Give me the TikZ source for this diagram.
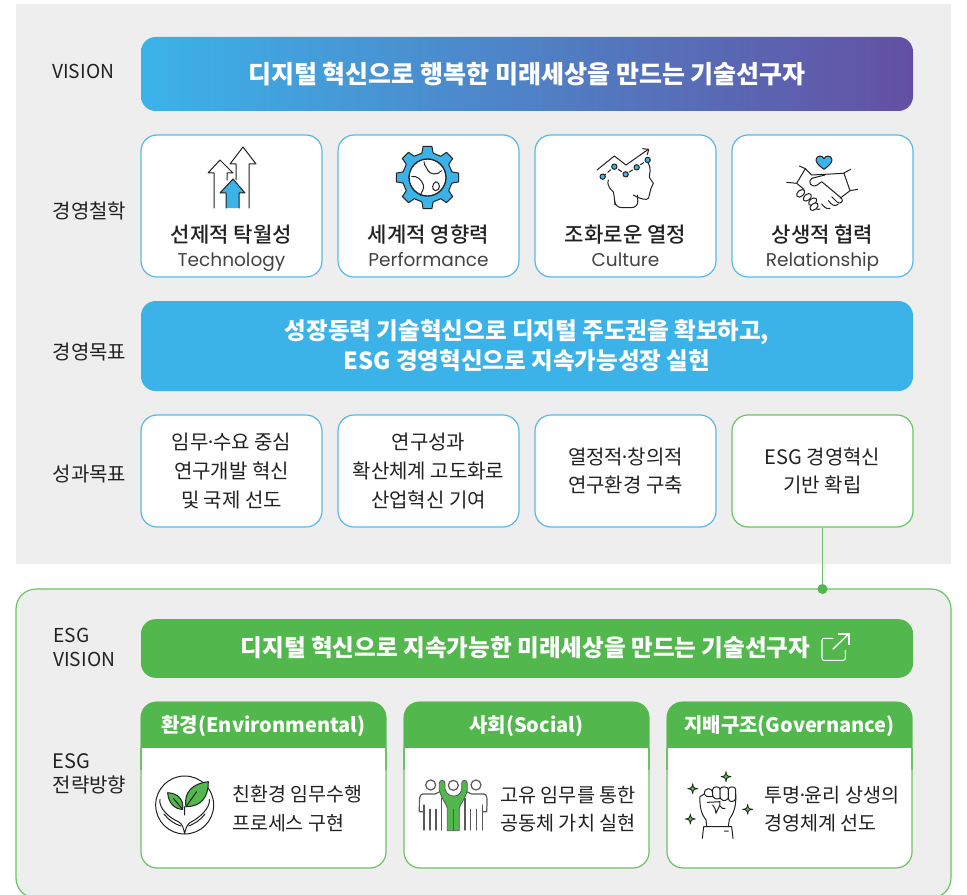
\documentclass[tikz,border=0pt]{standalone}
\usepackage{fontspec}
\setmainfont{Noto Sans CJK KR}
\newfontfamily\popp{Poppins}
\newfontfamily\med{Noto Sans CJK KR Medium}
\usetikzlibrary{calc}
\definecolor{bggrey}{HTML}{EEEEEE}
\definecolor{skyb}{HTML}{3BB3E9}
\definecolor{skyline}{HTML}{58B9E8}
\definecolor{grn}{HTML}{52B74C}
\definecolor{grnline}{HTML}{6CC365}
\definecolor{purp}{HTML}{6350A3}
\definecolor{ink}{HTML}{222222}
\newcommand{\fs}[2]{\fontsize{#1}{#2}\selectfont}
\newcommand{\mdot}{\kern-.17em·\kern-.17em}
\tikzset{
 card/.style={draw=skyline,line width=.9pt,fill=white,rounded corners=12pt,align=center,text=ink,inner sep=0pt},
 gcard/.style={card,draw=grnline},
 bar/.style={rounded corners=11pt,text=white,align=center,inner sep=0pt,font=\bfseries\fs{18.75}{22}},
 side/.style={anchor=west,text=ink,align=left,inner sep=0pt,font=\fs{14.4}{18.5}},
 sideh/.style={side,font=\fs{15}{18.5}},
 ico/.style={line width=.75pt,draw=ink,line join=round,line cap=round},
 zm/.style={x=.25pt,y=-.25pt},
}
\begin{document}
\begin{tikzpicture}[x=.75pt,y=-.75pt]
\useasboundingbox (0,0) rectangle (967,895);
\fill[white] (0,0) rectangle (967,895);
\fill[bggrey] (16,4) rectangle (951,564);
% ESG panel
\path[draw=grnline,fill=bggrey,line width=.9pt,rounded corners=15pt] (16,898) -- (16,589) -- (951,589) -- (951,898) -- cycle;
\node[inner sep=0pt,minimum width=935,minimum height=1pt] (esg) at (483.5,589) {};
% side labels
\node[side] (l1) at (52,71) {VISION};
\node[sideh] (l2) at (52.5,211) {경영철학};
\node[sideh] (l3) at (52.5,352) {경영목표};
\node[sideh] (l4) at (52.5,474) {성과목표};
\node[side] (l5) at (53,647.5) {ESG\\VISION};
\node[side,font=\fs{15}{18}] (l6) at (52.5,774) {ESG\\전략방향};
% bars
\node[bar,left color=skyb,right color=purp,minimum width=579pt,minimum height=55.5pt] (vis) at (527,74) {\raisebox{-.75pt}{디지털 혁신으로 행복한 미래세상을 만드는 기술선구자}};
\node[bar,fill=skyb,minimum width=579pt,minimum height=67.5pt] (goal) at (527,346) {\fs{17.65}{22}\raisebox{-.3pt}{성장동력 기술혁신으로 디지털 주도권을 확보하고,}\\[.6pt]\fs{17.65}{22}\raisebox{-.3pt}{ESG 경영혁신으로 지속가능성장 실현}};
\node[bar,fill=grn,minimum width=579pt,minimum height=44pt] (evis) at (527,648.5) {};
\node[text=white,font=\bfseries\fs{17.7}{20},inner sep=0pt,anchor=center] (evt) at (525.5,648) {디지털 혁신으로 지속가능한 미래세상을 만드는 기술선구자};
% philosophy cards
\foreach \n/\x/\k/\e in {p1/231.5/선제적 탁월성/Technology,p2/428.5/세계적 영향력/Performance,p3/625.5/조화로운 열정/Culture,p4/822.5/상생적 협력/Relationship}{
 \node[card,minimum width=135.75pt,minimum height=106.5pt] (\n) at (\x,206) {};
 \node[text=ink,inner sep=0pt,anchor=base,font=\med\fs{15.8}{18}] (\n k) at (\x,242) {\k};
 \node[text=ink!85,inner sep=0pt,anchor=base,font=\popp\fs{13.9}{16}] (\n e) at (\x,266) {\e};
}
% target cards
\node[card,font=\fs{15}{21.5},minimum width=135.75pt,minimum height=84pt] (t1) at (231.5,471) {\raisebox{-.75pt}{임무\mdot 수요 중심}\\\raisebox{-.75pt}{연구개발 혁신}\\\raisebox{-.75pt}{및 국제 선도}};
\node[card,font=\fs{15}{21.5},minimum width=135.75pt,minimum height=84pt] (t2) at (428.5,471) {\raisebox{-.75pt}{연구성과}\\\raisebox{-.75pt}{확산체계 고도화로}\\\raisebox{-.75pt}{산업혁신 기여}};
\node[card,font=\fs{15}{21.5},minimum width=135.75pt,minimum height=84pt] (t3) at (625.5,471) {\raisebox{-.75pt}{열정적\mdot 창의적}\\\raisebox{-.75pt}{연구환경 구축}};
\node[gcard,font=\fs{15}{21.5},minimum width=135.75pt,minimum height=84pt] (t4) at (822.5,471) {\raisebox{-.75pt}{ESG 경영혁신}\\\raisebox{-.75pt}{기반 확립}};
% connector
\coordinate (cdot) at (t4.south |- esg.center);
\draw[grnline,line width=.9pt] (t4.south) -- (cdot);
\fill[grn] (cdot) circle (5);
% external link icon
\begin{scope}[shift={(700,510)},zm]
\draw[white,line width=.8pt,rounded corners=1.5pt] (400,385) -- (366,385) -- (366,451) -- (436,451) -- (436,420);
\draw[white,line width=1pt] (398,418) -- (445,373);
\draw[white,line width=1pt] (414,372) -- (447,372) -- (447,405);
\end{scope}
% ESG cards
\foreach \n/\x/\k in {e1/263.5/환경(Environmental),e2/526.5/사회(Social),e3/789.5/지배구조(Governance)}{
 \node[gcard,minimum width=183.75pt,minimum height=124.5pt] (\n) at (\x,785) {};
 \fill[grn,rounded corners=11pt] (\x-122.5,760) -- (\x-122.5,702) -- (\x+122.5,702) -- (\x+122.5,760) -- cycle;
 \fill[white] (\x-122,748) rectangle (\x+122,770);
 \draw[grnline,line width=.9pt] (\x-122.5,748) -- (\x-122.5,770) (\x+122.5,748) -- (\x+122.5,770);
 \node[text=white,inner sep=0pt,font=\bfseries\fs{15}{18}] (\n h) at (\x,726) {\k};
}
\node[anchor=west,text=ink,inner sep=0pt,align=left,font=\fs{14.6}{21.5}] (e1t) at (232,809) {친환경 임무수행\\프로세스 구현};
\node[anchor=west,text=ink,inner sep=0pt,align=left,font=\fs{14.75}{21.5}] (e2t) at (500,809) {고유 임무를 통한\\공동체 가치 실현};
\node[anchor=west,text=ink,inner sep=0pt,align=left,font=\fs{14.7}{21.5}] (e3t) at (764,809) {투명\mdot 윤리 상생의\\경영체계 선도};
% ---- icon: arrows
\begin{scope}
\draw[ico] (214,208) -- (214,173) -- (208,173) -- (220,160) -- (233,173) -- (227,173) -- (227,180);
\draw[ico] (236,180) -- (236,164) -- (230,164) -- (243,147) -- (256,164) -- (249,164) -- (249,208);
\draw[ico,fill=skyb] (226,208) -- (226,193) -- (220,193) -- (233,179) -- (245,193) -- (239,193) -- (239,208);
\end{scope}
% ---- icon: gear
\begin{scope}[shift={(427.5,177.5)}]
\draw[ico,fill=skyb] (-13:25) \foreach \a in {0,45,...,315}{ -- (\a-13:25) -- (\a-8:31.5) -- (\a+8:31.5) -- (\a+13:25)} -- cycle;
\draw[ico,fill=white,line width=1pt] (0,0) circle (18.5);
\end{scope}
\begin{scope}[shift={(140,130)},zm]
\draw[ico] (852,95) .. controls (852,108) and (862,112) .. (864,122) .. controls (868,132) and (892,138) .. (905,122);
\draw[ico] (815,140) .. controls (832,136) and (845,150) .. (850,165) .. controls (855,178) and (842,185) .. (842,197);
\draw[ico] (888,155) .. controls (876,160) and (874,180) .. (886,182) .. controls (902,182) and (902,158) .. (888,155) -- cycle;
\end{scope}
% ---- icon: head
\begin{scope}[shift={(530,130)},zm]
\draw[ico] (201,120) -- (253,78) -- (288,105) -- (355,58);
\draw[ico] (338,56) -- (356,58) -- (352,74);
\draw[ico,rounded corners=5pt] (235,150) .. controls (228,170) and (250,185) .. (254,205) -- (255,233) -- (325,233) -- (322,196);
\draw[ico] (310,195) -- (325,203) .. controls (345,210) and (358,212) .. (358,195) -- (362,178) -- (370,160) -- (358,142) .. controls (358,130) and (365,120) .. (355,100);
\draw[ico,densely dashed] (218,140) -- (253,110) -- (287,133) -- (320,112) -- (353,90);
\foreach \p in {(218,140),(253,110),(287,133),(320,112),(353,90)}
  \draw[ico,fill=skyb] \p circle (8);
\end{scope}
% ---- icon: handshake
\begin{scope}[shift={(530,130)},zm]
\draw[ico,fill=skyb] (882,118) .. controls (868,108) and (858,98) .. (858,90) .. controls (858,76) and (878,74) .. (882,86) .. controls (886,74) and (906,76) .. (906,90) .. controls (906,98) and (896,108) .. (882,118) -- cycle;
\draw[ico] (808,108) -- (826,116) -- (845,135) -- (940,130) -- (962,118);
\draw[ico] (826,116) -- (800,160) -- (770,157) (800,160) -- (822,178);
\draw[ico] (942,130) -- (960,182) -- (983,178) (960,182) -- (930,205);
\draw[ico] (885,135) -- (845,145) .. controls (832,155) and (842,175) .. (862,165) -- (875,155) -- (935,205) .. controls (942,215) and (930,225) .. (920,215) -- (905,200);
\draw[ico] (925,222) .. controls (915,232) and (905,225) .. (895,212);
\draw[ico] (900,235) .. controls (890,240) and (880,228) .. (875,222);
\draw[ico] (870,237) .. controls (865,240) and (860,238) .. (858,235);
\foreach \a/\b in {812/190,832/202,848/215,852/230}
  \draw[ico,fill=white,rotate around={40:(\a,\b)}] (\a,\b) ellipse (14 and 9);
\end{scope}
% ---- icon: leaves in hands
\begin{scope}[shift={(140,750)},zm]
\draw[ico] (134,165) circle (87);
\draw[ico] (60,148) .. controls (55,175) and (90,205) .. (115,215) .. controls (128,222) and (130,235) .. (134,250) .. controls (138,235) and (140,222) .. (155,215) .. controls (175,205) and (212,175) .. (208,148);
\draw[ico] (72,192) .. controls (85,210) and (105,222) .. (122,228);
\draw[ico] (195,192) .. controls (182,210) and (162,222) .. (146,228);
\draw[ico,fill=grn] (205,95) .. controls (160,100) and (130,125) .. (138,170) .. controls (185,170) and (205,140) .. (205,95) -- cycle;
\draw[ico,fill=grn] (83,128) .. controls (85,160) and (105,178) .. (128,178) .. controls (132,150) and (115,130) .. (83,128) -- cycle;
\draw[ico] (134,195) -- (134,170) (138,170) -- (170,125) (128,178) -- (100,145);
\end{scope}
% ---- icon: people
\begin{scope}[shift={(140,750)},zm,ico/.append style={draw=ink!75}]
\draw[ico,line width=.9pt] (872,105) circle (15);
\draw[ico,line width=.9pt] (1008,105) circle (15);
\draw[ico,line width=.9pt] (940,106) circle (15);
\draw[ico,line width=.9pt] (900,125) -- (885,132) -- (848,132) .. controls (838,135) and (838,140) .. (838,185) -- (850,185);
\draw[ico,line width=.9pt] (852,165) -- (852,240) (870,178) -- (870,240) (888,178) -- (888,240) (905,145) -- (905,240);
\draw[ico,line width=.9pt] (980,125) -- (995,132) -- (1032,132) .. controls (1042,135) and (1042,140) .. (1040,185) -- (1028,185);
\draw[ico,line width=.9pt] (1028,165) -- (1028,240) (1010,178) -- (1010,240) (992,178) -- (992,240) (975,145) -- (975,240);
\draw[draw=ink!75,line width=.6pt,fill=grn] (898,100) .. controls (898,88) and (915,88) .. (915,100) -- (915,118) .. controls (920,135) and (935,138) .. (940,138) .. controls (948,138) and (962,135) .. (965,118) -- (965,100) .. controls (965,88) and (982,88) .. (982,100) -- (982,120) .. controls (975,150) and (958,165) .. (958,175) -- (958,242) -- (922,242) -- (922,175) .. controls (922,165) and (905,150) .. (898,120) -- cycle;
\draw[draw=ink!75,line width=.6pt] (940,178) -- (940,242);
\end{scope}
% ---- icon: fist
\begin{scope}[shift={(670,750)},zm]
\foreach \p in {(168,80),(68,116),(233,178),(61,207)}
 \draw[ico,fill=grn,line width=.6pt,shift={\p}] (0,-15) .. controls (1,-4) and (4,-1) .. (15,0) .. controls (4,1) and (1,4) .. (0,15) .. controls (-1,4) and (-4,1) .. (-15,0) .. controls (-4,-1) and (-1,-4) .. (0,-15) -- cycle;
\draw[ico] (97,265) -- (101,230) -- (185,230) -- (189,265) (163,243) -- (175,243);
\draw[ico] (110,230) -- (108,210) .. controls (95,195) and (88,170) .. (90,140) -- (103,132) (175,230) -- (178,208) .. controls (190,190) and (200,170) .. (197,130);
\draw[ico,fill=white] (103,132) .. controls (103,110) and (128,110) .. (128,132) -- (128,140) .. controls (110,140) and (105,140) .. (103,132) -- cycle;
\draw[ico,fill=white] (128,118) .. controls (128,108) and (150,108) .. (150,118) -- (150,145) .. controls (140,150) and (128,145) .. (128,135) -- cycle;
\draw[ico,fill=white] (150,118) .. controls (150,108) and (175,108) .. (175,118) -- (175,145) .. controls (165,158) and (150,150) .. (150,140) -- cycle;
\draw[ico,fill=white] (175,118) .. controls (175,108) and (197,108) .. (197,118) -- (197,145) .. controls (195,158) and (175,158) .. (175,145) -- cycle;
\draw[ico] (112,157) -- (150,155) .. controls (152,170) and (140,180) .. (138,190) (128,165) .. controls (135,172) and (137,180) .. (138,190) (150,168) .. controls (155,175) and (160,178) .. (165,175);
\end{scope}
\end{tikzpicture}
\end{document}
